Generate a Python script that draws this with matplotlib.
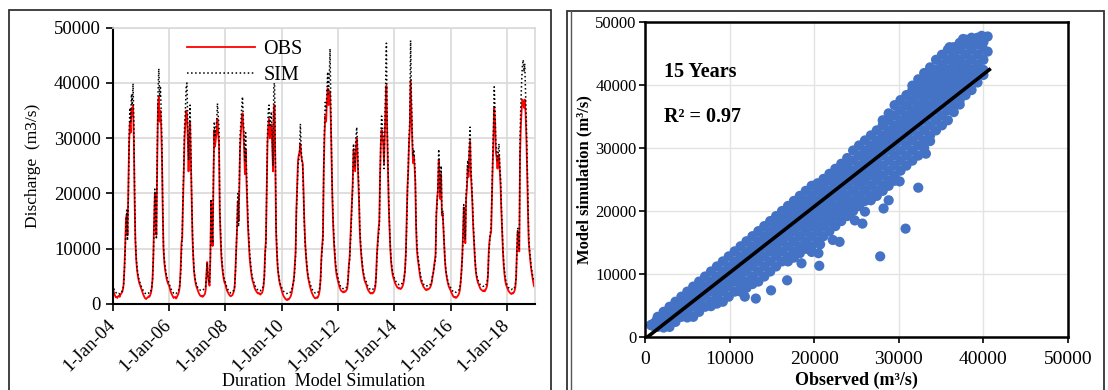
import numpy as np
import pandas as pd
import matplotlib
matplotlib.use('Agg')
import matplotlib.pyplot as plt
from matplotlib.patches import Rectangle
from matplotlib.lines import Line2D

plt.rcParams['font.family'] = ['Liberation Serif', 'DejaVu Serif']

# dekadal discharge (m3/s), 2004-2018, 36 values per year (days 1, 11, 21 of each month)
years = list(range(2004, 2019))
dekad_days = [1, 11, 21]

obs = [
    # 2004
    3000, 2400, 1800, 1500, 1200, 1300, 1100, 1400, 1500, 1300, 1700, 1900, 2100, 2500, 3500, 6500, 10500, 15500,
    16000, 12500, 20000, 29000, 33000, 31000, 35500, 34000, 36000, 30000, 19000, 11500, 8000, 6300, 5200, 4400, 3800, 3400,
    # 2005
    3000, 2500, 2100, 1700, 1400, 1100, 1000, 900, 1100, 1200, 1400, 1300, 1600, 2000, 2800, 4500, 8500, 15000,
    20000, 15000, 12500, 26000, 36000, 37500, 33000, 35000, 32000, 26500, 17000, 10000, 7500, 6200, 5300, 4500, 4000, 3600,
    # 2006
    3400, 2800, 2300, 1900, 1600, 1300, 1100, 1200, 1300, 1000, 1200, 1500, 1800, 2300, 3300, 6500, 11000, 12000,
    18500, 23500, 30000, 32500, 35000, 34500, 30000, 24000, 29000, 33000, 26000, 18500, 12000, 8500, 6000, 4700, 3800, 3200,
    # 2007
    2800, 2400, 2000, 1700, 1500, 1400, 1500, 1300, 1400, 1600, 1800, 2500, 5500, 7600, 5200, 3800, 3300, 8500,
    18500, 13000, 10500, 23000, 31500, 28500, 30000, 31000, 33500, 31000, 29000, 16500, 12000, 8500, 6800, 5500, 4500, 3900,
    # 2008
    3600, 3000, 2500, 2200, 1900, 1700, 1500, 1400, 1500, 1600, 1900, 2300, 3000, 6000, 9800, 13500, 18500, 15000,
    21000, 28500, 31000, 33000, 34500, 32000, 28000, 23500, 28000, 22500, 18000, 14000, 11000, 8500, 7000, 5800, 4800, 4100,
    # 2009
    3700, 3100, 2700, 2400, 2200, 2000, 1900, 2000, 1800, 1700, 1900, 2000, 2400, 3200, 5000, 9500, 11500, 20000,
    29000, 32000, 33500, 30000, 31500, 32500, 28500, 24000, 35000, 36000, 25500, 13000, 9000, 6500, 5200, 4200, 3500, 3000,
    # 2010
    2400, 2000, 1600, 1300, 1100, 900, 800, 700, 900, 800, 1000, 1200, 1500, 2000, 2800, 3800, 4800, 7000,
    9500, 17000, 21500, 26000, 27000, 27500, 29000, 27000, 26000, 25500, 21000, 15500, 11500, 9000, 7200, 5800, 4700, 4000,
    # 2011
    3300, 2800, 2300, 1900, 1600, 1300, 1200, 1000, 1100, 1200, 1100, 1400, 1800, 2600, 4500, 8500, 10500, 12500,
    24000, 30500, 34000, 33000, 36500, 39000, 36000, 37500, 38500, 33000, 25500, 19000, 14000, 11000, 8800, 6900, 5600, 4800,
    # 2012
    4200, 3600, 3100, 2700, 2400, 2300, 2200, 2100, 2300, 2200, 2300, 2500, 2800, 4200, 6800, 8500, 12000, 15000,
    19500, 22000, 28000, 26000, 24000, 28000, 30000, 27500, 22500, 18500, 13000, 10500, 8500, 7000, 5800, 5000, 4300, 3900,
    # 2013
    3600, 3100, 2700, 2400, 2200, 2000, 1900, 2000, 1900, 2000, 2200, 2500, 3200, 5200, 9000, 11500, 13500, 15000,
    23500, 29000, 31500, 30000, 29000, 25500, 31000, 36000, 39500, 31000, 24500, 18000, 13500, 10000, 7600, 6300, 5300, 4700,
    # 2014
    4300, 3800, 3500, 3200, 3000, 2900, 2800, 2900, 2700, 2800, 3000, 3300, 3800, 4800, 6200, 9500, 15000, 21000,
    24000, 29000, 31500, 40500, 35000, 30000, 25500, 27000, 25000, 22000, 14000, 10000, 8300, 7200, 6000, 5100, 4400, 3900,
    # 2015
    3600, 3200, 3000, 2800, 2600, 2500, 2700, 2600, 2700, 2800, 3000, 3300, 3800, 4800, 5500, 6800, 8000, 9000,
    16000, 19000, 20500, 26000, 23000, 19000, 23500, 16000, 16500, 13500, 10500, 7800, 6000, 5000, 4200, 3600, 3100, 2800,
    # 2016
    2500, 2100, 1800, 1500, 1300, 1200, 1300, 1100, 1200, 1400, 1600, 1900, 2500, 3800, 5800, 8500, 12500, 17500,
    13500, 11000, 19000, 21000, 25000, 23000, 27500, 29500, 23500, 21000, 18000, 14000, 11000, 8500, 6400, 5200, 4400, 3900,
    # 2017
    3500, 3100, 2800, 2600, 2500, 2400, 2300, 2500, 2300, 2600, 2900, 3400, 5200, 9500, 11500, 12500, 13000, 19000,
    25000, 30000, 35500, 33000, 27500, 26500, 24500, 26000, 27000, 24000, 21500, 17000, 13000, 9500, 7000, 5400, 4200, 3500,
    # 2018
    3100, 2700, 2400, 2200, 2000, 1900, 1800, 2000, 1900, 2100, 2400, 3000, 4800, 9500, 13000, 11500, 9500, 27000,
    32000, 35000, 37000, 36500, 35500, 37000, 34500, 30000, 24000, 17000, 11500, 9500, 8000, 6500, 5500, 4600, 3800, 3200,
]

sim = [
    # 2004
    3500, 3000, 2600, 2300, 2100, 1900, 1800, 1800, 1900, 1800, 2000, 2100, 2300, 2600, 3200, 6000, 9500, 14500,
    17000, 11500, 18000, 30000, 35500, 33000, 38000, 36000, 39900, 33000, 21000, 12000, 8500, 6800, 5600, 4800, 4200, 3800,
    # 2005
    3400, 3000, 2700, 2400, 2200, 2000, 1900, 1800, 1800, 1900, 2000, 1900, 2100, 2400, 3000, 4500, 8000, 14000,
    20800, 16000, 11700, 28000, 38000, 42600, 37500, 39500, 35000, 29000, 18000, 10500, 8000, 6800, 5800, 5000, 4600, 4200,
    # 2006
    3800, 3300, 2900, 2600, 2300, 2100, 2000, 2000, 2100, 1900, 2000, 2200, 2400, 2800, 3600, 5600, 9000, 12500,
    19600, 25000, 32000, 35000, 39300, 40000, 33000, 26000, 31000, 36000, 28000, 20000, 13000, 9000, 6200, 5000, 4200, 3600,
    # 2007
    3200, 2900, 2700, 2600, 2500, 2500, 2600, 2500, 2600, 2700, 2800, 3200, 5000, 7400, 5000, 4200, 3800, 8000,
    19000, 14000, 11000, 24000, 33000, 30500, 32000, 33000, 36300, 34000, 32000, 17800, 13000, 9300, 7500, 6000, 5000, 4400,
    # 2008
    4000, 3500, 3000, 2700, 2400, 2200, 2100, 2000, 2000, 2100, 2300, 2600, 3200, 5500, 9300, 14000, 20000, 14000,
    22000, 30500, 33000, 35500, 37500, 34000, 30000, 26000, 31000, 25000, 20000, 15300, 12000, 9500, 8000, 6500, 5300, 4600,
    # 2009
    4200, 3700, 3300, 3000, 2800, 2600, 2500, 2600, 2500, 2400, 2600, 2700, 3000, 3600, 4800, 9000, 11000, 21000,
    30500, 34800, 36000, 32000, 33500, 34800, 30000, 25000, 39600, 40000, 27000, 14000, 9500, 6800, 5500, 4500, 3800, 3300,
    # 2010
    3000, 2700, 2400, 2200, 2100, 2000, 1900, 1900, 2000, 1900, 2000, 2100, 2300, 2600, 3200, 4000, 4400, 6500,
    8700, 16500, 20000, 25000, 26000, 27300, 32600, 28000, 26000, 25000, 20000, 15000, 11000, 9300, 7500, 6000, 5000, 4400,
    # 2011
    3900, 3400, 3000, 2700, 2400, 2200, 2100, 2000, 2000, 2100, 2000, 2200, 2500, 3000, 4500, 8000, 10000, 11700,
    25000, 32000, 36500, 35000, 38300, 42000, 38000, 41000, 46200, 35300, 27000, 20000, 15000, 12000, 9500, 7500, 6300, 5600,
    # 2012
    4800, 4200, 3700, 3300, 3000, 2900, 2800, 2800, 2900, 2800, 2900, 3000, 3200, 4500, 6500, 8000, 11000, 14000,
    18000, 21000, 29000, 27000, 25000, 30000, 32000, 29000, 24000, 20000, 14000, 11000, 9000, 7500, 6200, 5400, 4800, 4400,
    # 2013
    4100, 3700, 3300, 3000, 2800, 2700, 2600, 2700, 2600, 2700, 2800, 3000, 3500, 5000, 8500, 11000, 12500, 14000,
    22000, 30500, 34000, 32000, 30500, 24500, 32000, 39500, 47200, 33000, 26000, 19000, 14000, 10500, 8000, 6800, 5800, 5200,
    # 2014
    4800, 4400, 4100, 3900, 3700, 3600, 3500, 3600, 3500, 3600, 3700, 3900, 4300, 5000, 6000, 9000, 14000, 20000,
    24500, 30000, 33000, 47700, 38000, 32000, 26800, 28000, 26000, 23000, 15000, 11000, 9000, 8000, 6800, 5800, 5000, 4400,
    # 2015
    4000, 3700, 3500, 3400, 3300, 3200, 3300, 3200, 3300, 3400, 3500, 3700, 4200, 5000, 5500, 6500, 7500, 8000,
    16500, 18000, 21000, 28000, 24000, 20000, 25000, 16500, 17000, 14000, 11000, 8000, 6200, 5200, 4500, 3900, 3500, 3200,
    # 2016
    3000, 2700, 2500, 2300, 2200, 2100, 2200, 2100, 2200, 2300, 2400, 2600, 3000, 4000, 5500, 8000, 12000, 18000,
    14000, 11700, 20000, 22000, 26000, 24000, 29000, 32000, 25000, 22000, 19000, 15000, 11700, 9000, 6800, 5600, 4800, 4400,
    # 2017
    4000, 3700, 3500, 3400, 3300, 3200, 3200, 3300, 3200, 3400, 3600, 4000, 5500, 9000, 11000, 13000, 14000, 20000,
    26000, 32000, 39300, 35000, 29000, 28000, 26000, 27500, 29000, 25000, 23000, 18000, 14000, 10000, 7500, 6000, 4800, 4000,
    # 2018
    3600, 3200, 3000, 2800, 2700, 2600, 2600, 2700, 2600, 2800, 3000, 3500, 5000, 9000, 13800, 12000, 10000, 30000,
    36000, 40000, 43000, 44200, 42000, 43500, 38000, 33000, 26000, 18000, 12500, 10000, 8500, 7000, 6000, 5200, 4500, 4000,
]

# extra daily points read off the dense scatter cloud: (observed, [simulated values at that observed flow])
band_rows = [
    (1500, [1600, 3200]),
    (2200, [1500, 2400, 4000]),
    (2900, [1600, 3200, 4800]),
    (3600, [2400, 4000, 5600]),
    (4300, [3200, 4800, 6400]),
    (5000, [3100, 4000, 5600, 7200]),
    (5700, [3200, 4800, 6400, 8000]),
    (6400, [4000, 5600, 7200, 8800]),
    (7100, [4800, 6400, 8000, 9600]),
    (7800, [4900, 5600, 7200, 8800, 10400]),
    (8500, [5300, 6400, 8000, 9600, 11200]),
    (9200, [5600, 7200, 8800, 10400, 12000]),
    (9900, [6400, 8000, 9600, 11200, 12800]),
    (10600, [7200, 8800, 10400, 12000, 13600]),
    (11300, [7200, 8000, 9600, 11200, 12800, 14400]),
    (12000, [7800, 8800, 10400, 12000, 13600, 15200]),
    (12700, [8400, 9600, 11200, 12800, 14400, 16000]),
    (13400, [8800, 10400, 12000, 13600, 15200, 16800]),
    (14100, [9600, 11200, 12800, 14400, 16000, 17600]),
    (14800, [10400, 12000, 13600, 15200, 16800, 18400]),
    (15500, [11200, 12800, 14400, 16000, 17600, 19200]),
    (16200, [12000, 13600, 15200, 16800, 18400, 20000]),
    (16900, [12000, 12800, 14400, 16000, 17600, 19200, 20800]),
    (17600, [12600, 13600, 15200, 16800, 18400, 20000, 21600]),
    (18300, [13300, 14400, 16000, 17600, 19200, 20800, 22400]),
    (19000, [14000, 15200, 16800, 18400, 20000, 21600, 23200]),
    (19700, [14400, 16000, 17600, 19200, 20800, 22400, 24000]),
    (20400, [15200, 16800, 18400, 20000, 21600, 23200, 24400]),
    (21100, [16000, 17600, 19200, 20800, 22400, 24000, 25100]),
    (21800, [16800, 18400, 20000, 21600, 23200, 24800, 25900]),
    (22500, [17600, 19200, 20800, 22400, 24000, 25600, 26700]),
    (23200, [18400, 20000, 21600, 23200, 24800, 26400, 27500]),
    (23900, [19200, 20800, 22400, 24000, 25600, 27200, 28400]),
    (24600, [20000, 21600, 23200, 24800, 26400, 28000, 29600]),
    (25300, [20800, 22400, 24000, 25600, 27200, 28800, 30400]),
    (26000, [21600, 23200, 24800, 26400, 28000, 29600, 31200]),
    (26700, [21700, 22400, 24000, 25600, 27200, 28800, 30400, 32000]),
    (27400, [22400, 23200, 24800, 26400, 28000, 29600, 31200, 32800]),
    (28100, [23200, 24000, 25600, 27200, 28800, 30400, 32000, 33600, 34400]),
    (28800, [24000, 24800, 26400, 28000, 29600, 31200, 32800, 34400, 35500]),
    (29500, [24800, 25600, 27200, 28800, 30400, 32000, 33600, 35200, 36800]),
    (30200, [26400, 28000, 29600, 31200, 32800, 34400, 36000, 37600]),
    (30900, [27200, 28800, 30400, 32000, 33600, 35200, 36800, 38400]),
    (31600, [28000, 29600, 31200, 32800, 34400, 36000, 37600, 39200, 39900]),
    (32300, [28800, 30400, 32000, 33600, 35200, 36800, 38400, 40000, 40900]),
    (33000, [30000, 31200, 32800, 34400, 36000, 37600, 39200, 40800, 41900]),
    (33700, [31100, 32000, 33600, 35200, 36800, 38400, 40000, 41600, 42800]),
    (34400, [32800, 34400, 36000, 37600, 39200, 40800, 42400, 44000]),
    (35100, [33600, 35200, 36800, 38400, 40000, 41600, 43200, 44800]),
    (35800, [34400, 36000, 37600, 39200, 40800, 42400, 44000, 45600]),
    (36500, [35700, 36800, 38400, 40000, 41600, 43200, 44800, 46000]),
    (37200, [36900, 37600, 39200, 40800, 42400, 44000, 45600, 46700]),
    (37900, [38400, 40000, 41600, 43200, 44800, 46400, 47200]),
    (38600, [39200, 40800, 42400, 44000, 45600, 47200]),
    (39300, [40400, 41600, 43200, 44800, 46400, 47500]),
    (40000, [41600, 42400, 44000, 45600, 46800]),
]

# isolated points away from the cloud (observed, simulated)
outlier_obs = [27800, 30800, 20600, 32300, 30100, 28800, 28200, 26000, 25700, 24800, 23000, 22200, 20500, 20700,
               19700, 16800, 14900, 13100, 11800, 18500, 18100, 40500, 39800, 38600, 36000, 37600, 34100, 33200]
outlier_sim = [12800, 17200, 11300, 23700, 24700, 21700, 20400, 19900, 18000, 18500, 15100, 15400, 13300, 14700,
               13500, 9000, 7400, 6100, 6400, 11700, 13800, 45300, 47800, 47500, 46000, 47300, 36000, 29100]

tick_years = [2004, 2006, 2008, 2010, 2012, 2014, 2016, 2018]
tick_labels = ['1-Jan-04', '1-Jan-06', '1-Jan-08', '1-Jan-10',
               '1-Jan-12', '1-Jan-14', '1-Jan-16', '1-Jan-18']
q_ticks = [0, 10000, 20000, 30000, 40000, 50000]

# linear trendline shown on the scatter
fit_slope = 1.05
fit_icpt = -300
fit_range = [300, 40700]

dates = pd.to_datetime([f'{y}-{m:02d}-{d:02d}' for y in years
                        for m in range(1, 13) for d in dekad_days])

W, H = 1108, 390
fig = plt.figure(figsize=(W / 100, H / 100), dpi=100)

# panel frames
fig.add_artist(Rectangle((9 / W, -0.02), 542 / W, 1.02 - 10 / H, transform=fig.transFigure,
                         fill=False, lw=1.3, ec='#333333'))
fig.add_artist(Rectangle((567 / W, -0.02), 537 / W, 1.02 - 10.7 / H, transform=fig.transFigure,
                         fill=False, lw=1.3, ec='#333333'))
fig.add_artist(Line2D([571 / W, 571 / W], [-0.02, 1 - 10.7 / H], transform=fig.transFigure,
                      lw=1.0, color='#555555'))

# ---- left: time series ----
ax1 = fig.add_axes([112.7 / W, 1 - 304 / H, 422.3 / W, 276.3 / H])
ax1.plot(dates, obs, color='#ff0000', lw=1.3, label='OBS')
ax1.plot(dates, sim, color='black', ls=':', lw=1.1, label='SIM')
ax1.set_xlim(pd.Timestamp('2004-01-01'), pd.Timestamp('2019-01-01'))
ax1.set_ylim(0, 50000)
ax1.set_yticks(q_ticks)
ax1.set_yticklabels([str(v) for v in q_ticks])
ax1.set_xticks(pd.to_datetime([f'{y}-01-01' for y in tick_years]))
ax1.set_xticklabels(tick_labels, rotation=45, ha='right', va='center', rotation_mode='anchor')
ax1.grid(True, color='#d9d9d9', lw=1.2)
ax1.set_axisbelow(True)
for s in ['top', 'right']:
    ax1.spines[s].set_color('#d9d9d9')
    ax1.spines[s].set_linewidth(1.2)
for s in ['left', 'bottom']:
    ax1.spines[s].set_color('black')
    ax1.spines[s].set_linewidth(1.5)
ax1.tick_params(direction='out', length=5, width=1.2, labelsize=13.5)
ax1.tick_params(axis='x', pad=8)
ax1.set_xlabel('Duration  Model Simulation', fontsize=13)
ax1.xaxis.set_label_coords(0.5, -0.248)
ax1.set_ylabel('Discharge  (m3/s)', fontsize=12.5)
ax1.yaxis.set_label_coords(-0.17, 0.5)
ax1.legend(loc='upper left', bbox_to_anchor=(0.176, 0.955), frameon=False, fontsize=14.5,
           handlelength=3.4, handletextpad=0.4, borderpad=0, borderaxespad=0, labelspacing=0.35)

# ---- right: scatter ----
band_obs = [o for o, sims in band_rows for _ in sims]
band_sim = [s for _, sims in band_rows for s in sims]
pts_obs = np.concatenate([obs, band_obs, outlier_obs])
pts_sim = np.concatenate([sim, band_sim, outlier_sim])

ax2 = fig.add_axes([645 / W, 1 - 337 / H, 423 / W, 315 / H])
ax2.scatter(pts_obs, pts_sim, s=54, color='#4472C4', edgecolors='none', zorder=2)
fit_x = np.array(fit_range)
ax2.plot(fit_x, fit_slope * fit_x + fit_icpt, color='black', lw=2.6, zorder=3)
ax2.set_xlim(0, 50000)
ax2.set_ylim(0, 50000)
ax2.set_xticks(q_ticks)
ax2.set_xticklabels([str(v) for v in q_ticks])
ax2.set_yticks(q_ticks)
ax2.set_yticklabels([str(v) for v in q_ticks])
ax2.grid(True, color='#e3e3e3', lw=1.0)
ax2.set_axisbelow(True)
for s in ax2.spines.values():
    s.set_color('black')
    s.set_linewidth(1.8)
ax2.tick_params(direction='out', length=4, width=1.2)
ax2.tick_params(axis='x', labelsize=14, pad=6)
ax2.tick_params(axis='y', labelsize=12, pad=2)
ax2.set_xlabel('Observed (m³/s)', fontsize=13, fontweight='bold')
ax2.xaxis.set_label_coords(0.5, -0.11)
ax2.set_ylabel('Model simulation (m³/s)', fontsize=12, fontweight='bold')
ax2.yaxis.set_label_coords(-0.125, 0.5)
ax2.text(2200, 42100, '15 Years', fontsize=14.5, fontweight='bold', va='center')
ax2.text(2200, 34900, 'R² = 0.97', fontsize=14.5, fontweight='bold', va='center')

fig.savefig('out.png', dpi=100)
